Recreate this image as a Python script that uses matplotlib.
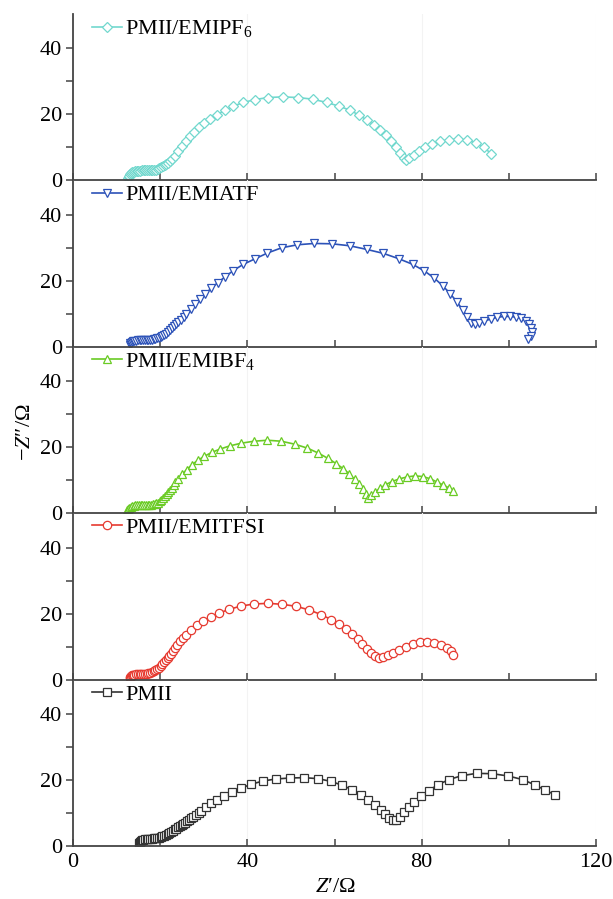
import numpy as np
import matplotlib
matplotlib.use("Agg")
import matplotlib.pyplot as plt
from matplotlib.ticker import FixedLocator

plt.rcParams["font.family"] = ["Liberation Serif", "DejaVu Serif"]
plt.rcParams["mathtext.fontset"] = "custom"
plt.rcParams["mathtext.rm"] = "Liberation Serif"
plt.rcParams["mathtext.it"] = "Liberation Serif:italic"

# PMII/EMIPF6 (cyan)
pf6_x = [12.7, 12.8, 12.9, 13.1, 13.3, 13.6, 13.9, 14.2, 14.6, 15.0, 15.4, 15.8, 16.2, 16.6,
         17.0, 17.4, 17.8, 18.2, 18.6, 19.0, 19.4, 19.8, 20.2, 20.6, 21.0, 21.4, 21.8, 22.3,
         22.8, 23.4, 24.2, 25.0, 25.9, 26.8, 27.8, 28.9, 30.1, 31.5, 33.0, 34.8, 36.8,
         39.1, 41.8, 44.8, 48.1, 51.6, 55.0, 58.2, 61.0, 63.5, 65.6, 67.4, 69.0, 70.5, 71.8,
         73.0, 74.1, 75.1, 75.9, 76.4, 77.2, 78.2, 79.4, 80.8, 82.4, 84.2, 86.2, 88.3, 90.4,
         92.4, 94.3, 96.0]
pf6_y = [0.6, 1.0, 1.4, 1.8, 2.1, 2.4, 2.6, 2.7, 2.8, 2.9, 2.9, 3.0, 3.0, 3.0,
         3.0, 3.0, 3.1, 3.1, 3.2, 3.3, 3.5, 3.7, 4.0, 4.3, 4.6, 5.0, 5.4, 5.9,
         6.6, 7.5, 9.0, 10.5, 12.0, 13.4, 14.8, 16.1, 17.4, 18.7, 19.9, 21.2, 22.5,
         23.6, 24.5, 25.1, 25.3, 25.1, 24.6, 23.6, 22.5, 21.3, 19.8, 18.3, 16.8, 15.2, 13.6,
         11.8, 10.0, 8.2, 6.8, 6.2, 6.8, 7.8, 8.9, 10.0, 11.0, 11.8, 12.3, 12.5, 12.2,
         11.4, 10.0, 8.0]

# PMII/EMIATF (blue)
atf_x = [13.0, 13.1, 13.3, 13.5, 13.8, 14.1, 14.5, 14.9, 15.3, 15.7, 16.1, 16.5, 16.9, 17.3,
         17.7, 18.1, 18.5, 18.9, 19.3, 19.7, 20.1, 20.5, 20.9, 21.3, 21.7, 22.2, 22.7, 23.2,
         23.7, 24.2, 24.8, 25.4, 26.0, 27.0, 28.0, 29.1, 30.3, 31.7, 33.2, 34.9, 36.8, 39.1,
         41.7, 44.6, 47.9, 51.5, 55.3, 59.4, 63.5, 67.4, 71.2, 74.7, 77.9, 80.6, 82.9, 84.9,
         86.6, 88.1, 89.4, 90.5, 91.4, 92.2, 93.2, 94.4, 95.8, 97.3, 98.8, 100.3, 101.7, 102.9,
         103.9, 104.7, 105.2, 105.4, 105.1, 104.5]
atf_y = [0.6, 1.0, 1.3, 1.5, 1.7, 1.8, 1.9, 2.0, 2.0, 2.0, 2.0, 2.0, 2.0, 2.1,
         2.1, 2.2, 2.3, 2.4, 2.6, 2.8, 3.0, 3.3, 3.6, 4.0, 4.5, 5.0, 5.6, 6.2,
         6.8, 7.5, 8.2, 9.0, 10.0, 11.5, 12.9, 14.4, 16.0, 17.7, 19.4, 21.2, 23.1, 25.0,
         26.6, 28.4, 30.0, 30.9, 31.3, 31.2, 30.6, 29.5, 28.3, 26.7, 25.0, 23.0, 20.8, 18.4,
         16.0, 13.6, 11.2, 9.0, 7.3, 6.8, 7.2, 7.8, 8.4, 8.9, 9.2, 9.2, 9.0, 8.6,
         7.9, 7.0, 5.8, 4.5, 3.3, 2.5]

# PMII/EMIBF4 (green)
bf4_x = [12.4, 12.5, 12.7, 12.9, 13.2, 13.5, 13.9, 14.3, 14.7, 15.1, 15.5, 15.9, 16.3, 16.7,
         17.1, 17.5, 17.9, 18.3, 18.7, 19.1, 19.5, 19.9, 20.3, 20.7, 21.1, 21.5, 21.9, 22.3,
         22.7, 23.1, 23.5, 24.0, 25.0, 26.1, 27.3, 28.6, 30.1, 31.8, 33.7, 36.0, 38.6, 41.5,
         44.6, 47.8, 50.9, 53.8, 56.3, 58.5, 60.4, 62.0, 63.4, 64.6, 65.6, 66.5, 67.2, 67.7,
         68.4, 69.3, 70.4, 71.7, 73.2, 74.9, 76.7, 78.5, 80.3, 82.0, 83.6, 85.0, 86.2, 87.2]
bf4_y = [0.5, 0.9, 1.3, 1.6, 1.9, 2.1, 2.3, 2.4, 2.4, 2.5, 2.5, 2.5, 2.5, 2.5,
         2.5, 2.6, 2.6, 2.7, 2.8, 3.0, 3.2, 3.6, 4.0, 4.6, 5.2, 5.8, 6.4, 7.0,
         7.7, 8.5, 9.3, 10.3, 11.8, 13.2, 14.7, 16.0, 17.2, 18.4, 19.4, 20.4, 21.2, 21.8,
         22.1, 21.8, 20.9, 19.7, 18.2, 16.6, 15.0, 13.5, 11.9, 10.3, 8.7, 7.2, 5.7, 4.6,
         5.4, 6.4, 7.5, 8.6, 9.6, 10.4, 11.0, 11.3, 11.1, 10.4, 9.4, 8.5, 7.7, 6.8]

# PMII/EMITFSI (red)
tfsi_x = [13.0, 13.1, 13.3, 13.5, 13.8, 14.1, 14.5, 14.9, 15.3, 15.7, 16.1, 16.5, 16.9, 17.3,
          17.7, 18.1, 18.5, 18.9, 19.3, 19.7, 20.1, 20.5, 20.9, 21.3, 21.7, 22.1, 22.5, 22.9,
          23.4, 23.9, 24.5, 25.2, 25.9, 27.1, 28.4, 29.9, 31.6, 33.6, 35.9, 38.6, 41.6,
          44.8, 48.0, 51.2, 54.2, 56.9, 59.2, 61.1, 62.7, 64.1, 65.3, 66.4, 67.4, 68.3, 69.2,
          70.1, 71.1, 72.2, 73.4, 74.8, 76.3, 77.9, 79.6, 81.3, 82.9, 84.4, 85.7, 86.7, 87.3]
tfsi_y = [0.5, 0.8, 1.1, 1.3, 1.4, 1.5, 1.6, 1.6, 1.7, 1.7, 1.7, 1.8, 1.8, 1.9,
          2.1, 2.3, 2.6, 2.9, 3.2, 3.6, 4.1, 4.6, 5.2, 5.8, 6.4, 7.1, 7.9, 8.7,
          9.6, 10.6, 11.6, 12.6, 13.6, 15.0, 16.4, 17.7, 18.9, 20.2, 21.3, 22.3, 22.9,
          23.1, 22.8, 22.2, 21.1, 19.7, 18.2, 16.7, 15.2, 13.7, 12.2, 10.7, 9.3, 8.0, 7.0,
          6.6, 6.8, 7.4, 8.2, 9.1, 9.9, 10.7, 11.3, 11.5, 11.2, 10.5, 9.6, 8.6, 7.3]

# PMII (black)
pmii_x = [15.2, 15.3, 15.5, 15.8, 16.1, 16.5, 16.9, 17.3, 17.7, 18.1, 18.5, 18.9, 19.3, 19.7,
          20.1, 20.5, 20.9, 21.3, 21.7, 22.1, 22.5, 22.9, 23.3, 23.7, 24.1, 24.5, 24.9, 25.3,
          25.7, 26.1, 26.6, 27.1, 27.6, 28.2, 28.8, 29.4, 30.5, 31.7, 33.0, 34.6, 36.4, 38.5,
          40.9, 43.6, 46.6, 49.8, 53.0, 56.2, 59.1, 61.8, 64.1, 66.1, 67.8, 69.3, 70.6, 71.7,
          72.6, 73.4, 74.2, 75.0, 75.9, 77.0, 78.3, 79.8, 81.6, 83.7, 86.2, 89.2, 92.6, 96.2,
          99.9, 103.2, 106.0, 108.4, 110.6]
pmii_y = [0.8, 1.2, 1.5, 1.8, 1.9, 2.0, 2.1, 2.2, 2.2, 2.2, 2.3, 2.3, 2.4, 2.5,
          2.7, 2.9, 3.1, 3.4, 3.7, 4.0, 4.3, 4.6, 5.0, 5.3, 5.7, 6.0, 6.4, 6.7,
          7.1, 7.5, 7.9, 8.4, 8.9, 9.5, 10.1, 10.7, 11.8, 12.9, 14.0, 15.1, 16.3, 17.5,
          18.7, 19.7, 20.3, 20.6, 20.7, 20.4, 19.6, 18.4, 17.0, 15.5, 14.0, 12.5, 11.0, 9.7,
          8.6, 7.9, 7.9, 8.8, 10.2, 11.7, 13.3, 15.0, 16.8, 18.5, 20.1, 21.3, 22.0, 21.9,
          21.2, 20.1, 18.5, 16.9, 15.5]

series = [
    (pf6_x, pf6_y, "PMII/EMIPF$_6$", "#72d8ce", "D", 5.0),
    (atf_x, atf_y, "PMII/EMIATF", "#2c52b8", "v", 6.0),
    (bf4_x, bf4_y, "PMII/EMIBF$_4$", "#6acb24", "^", 6.0),
    (tfsi_x, tfsi_y, "PMII/EMITFSI", "#e63a30", "o", 6.0),
    (pmii_x, pmii_y, "PMII", "#333333", "s", 5.5),
]

fig = plt.figure(figsize=(6.13, 8.99), dpi=100)
left, right = 73 / 613, 596 / 613
bottom, top = 1 - 846 / 899, 1 - 14 / 899
h = (top - bottom) / 5

for i, (xs, ys, label, color, marker, ms) in enumerate(series):
    ax = fig.add_axes([left, top - (i + 1) * h, right - left, h])
    ax.plot(xs, ys, color=color, lw=1.2, marker=marker, ms=ms,
            mfc="white", mec=color, mew=0.9, label=label)
    ax.set_xlim(0, 120)
    ax.set_ylim(0, 50.4)
    for s in ["top", "right"]:
        ax.spines[s].set_visible(False)
    for s in ["left", "bottom"]:
        ax.spines[s].set_color("#444444")
        ax.spines[s].set_linewidth(1.3)
    ax.patch.set_alpha(0)
    ax.xaxis.set_major_locator(FixedLocator([0, 40, 80, 120]))
    ax.xaxis.set_minor_locator(FixedLocator([20, 60, 100]))
    ax.yaxis.set_major_locator(FixedLocator([0, 20, 40]))
    ax.yaxis.set_minor_locator(FixedLocator([10, 30]))
    ax.tick_params(axis="x", which="both", direction="in", length=5, width=1.1,
                   color="#444444", labelsize=16, pad=5)
    ax.tick_params(axis="y", which="both", direction="out", length=5, width=1.1,
                   color="#444444", labelsize=16, pad=3)
    ax.grid(axis="x", color="#f3f3f3", lw=0.8)
    if i < 4:
        ax.tick_params(axis="x", labelbottom=False)
    ax.legend(loc="upper left", bbox_to_anchor=(0.015, 1.04), frameon=False,
              fontsize=16, handlelength=1.35, handletextpad=0.15,
              borderaxespad=0.1)

fig.text(25 / 613, 1 - 432 / 899, "\u2212$\\mathit{Z}$\u2033/\u03a9", rotation=90,
         ha="center", va="center", fontsize=16)
fig.text(335 / 613, 1 - 888 / 899, "$\\mathit{Z}$\u2032/\u03a9",
         ha="center", va="center", fontsize=16)

fig.savefig("out.png", dpi=100)
